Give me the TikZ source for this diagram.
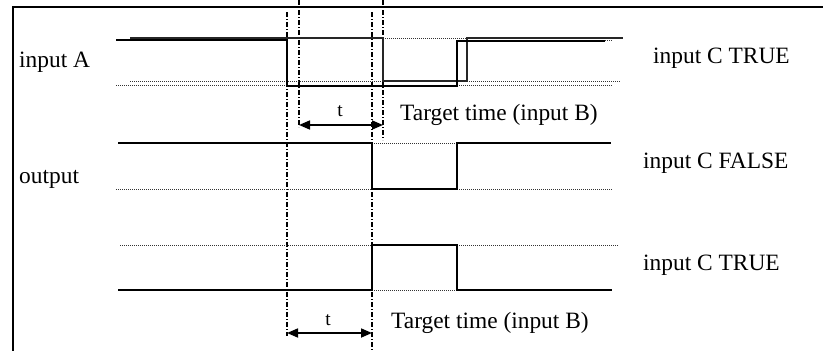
\documentclass[tikz,border=0pt]{standalone}
\usepackage{fontspec}
\setmainfont{Liberation Serif}
\usetikzlibrary{arrows.meta}
\tikzset{
  sig/.style={line width=1.8pt, line join=miter},
  sigb/.style={line width=1.6pt, black!85},
  dots/.style={line width=0.9pt, dash pattern=on 1pt off 1pt, black!80},
  guide/.style={line width=1.1pt, dash pattern=on 5pt off 2pt on 1pt off 2pt},
  dim/.style={line width=1.7pt, {Triangle[length=11pt,width=9pt]}-{Triangle[length=11pt,width=9pt]}},
  lbl/.style={inner sep=0pt, anchor=base west, font=\fontsize{23.4}{27}\selectfont},
  tl/.style={inner sep=0pt, anchor=base, font=\fontsize{19.5}{22}\selectfont}
}
\begin{document}
\begin{tikzpicture}[x=1pt,y=-1pt]
\useasboundingbox (0,0) rectangle (823,351);
% frame
\draw[line width=2pt] (13,352) -- (13,7) -- (824,7);

% guide lines
\coordinate (g1t) at (287,12);  \coordinate (g1b) at (287,336);
\coordinate (g2t) at (372,12);  \coordinate (g2b) at (372,351);
\coordinate (g3t) at (299,0);   \coordinate (g3b) at (299,127);
\coordinate (g4t) at (383,0);   \coordinate (g4b) at (383,140);
\draw[guide] (g1t) -- (g1b);
\draw[guide] (g2t) -- (g2b);
\draw[guide] (g3t) -- (g3b);
\draw[guide] (g4t) -- (g4b);

% input A : two overlaid signals
\draw[dots] (130,81) -- (383,81);
\draw[dots] (116,85) -- (287,85);
\draw[dots] (383,38) -- (467,38);
\draw[dots] (467,81) -- (620,81);
\draw[dots] (457,85) -- (612,85);
\draw[dots] (605,40) -- (613,40);
\draw[sigb] (130,38) -- (383,38) -- (383,81) -- (467,81) -- (467,38) -- (623,38);
\draw[sig] (116,40) -- (287,40) -- (287,86) -- (457,86) -- (457,41) -- (605,41);

% output (input C FALSE)
\draw[dots] (116,189) -- (372,189);
\draw[dots] (372,143) -- (457,143);
\draw[dots] (457,189) -- (612,189);
\draw[sig] (118,143) -- (372,143) -- (372,189) -- (457,189) -- (457,143) -- (611,143);

% output (input C TRUE)
\draw[dots] (120,245) -- (372,245);
\draw[dots] (372,290) -- (457,290);
\draw[dots] (457,245) -- (618,245);
\draw[sig] (118,290) -- (372,290) -- (372,245) -- (457,245) -- (457,290) -- (612,290);

% dimension arrows
\coordinate (a1l) at (299,125); \coordinate (a1r) at (383,125);
\coordinate (a2l) at (287,333); \coordinate (a2r) at (372,333);
\draw[dim] (a1l) -- (a1r);
\draw[dim] (a2l) -- (a2r);
\node[tl] (t1) at (340,116) {t};
\node[tl] (t2) at (328,325) {t};

% labels
\node[lbl] (ina) at (19,67) {input A};
\node[lbl] (out) at (19,183) {output};
\node[lbl] (ct1) at (653,63) {input C TRUE};
\node[lbl] (cf) at (643,168) {input C FALSE};
\node[lbl] (ct2) at (643,270) {input C TRUE};
\node[lbl] (tt1) at (400,120) {Target time (input B)};
\node[lbl] (tt2) at (391,328) {Target time (input B)};
\end{tikzpicture}
\end{document}
